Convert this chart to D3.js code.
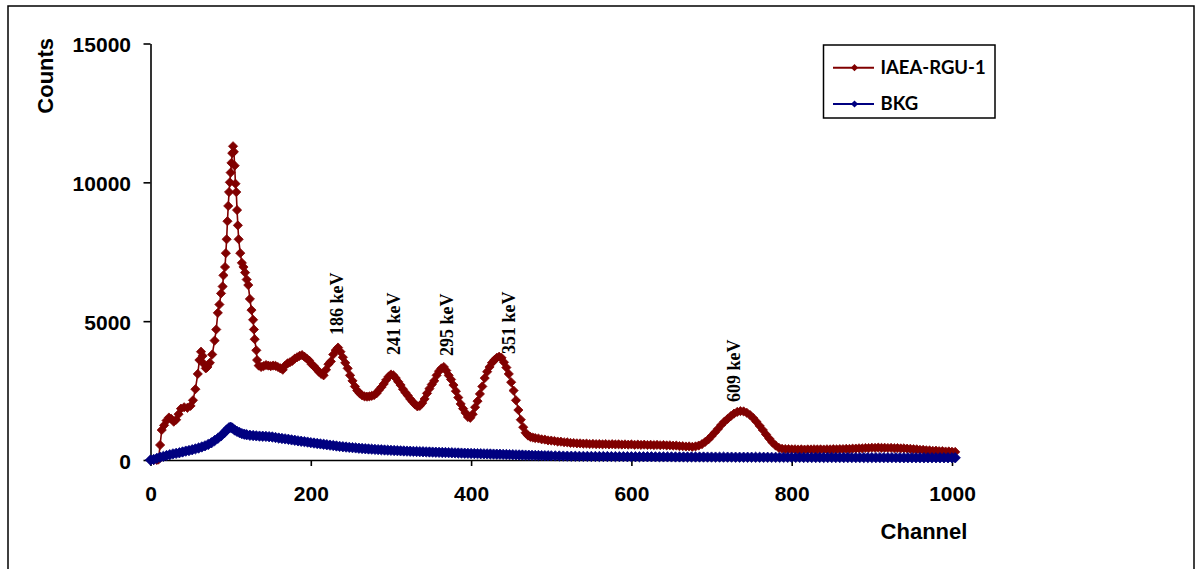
<!DOCTYPE html>
<html>
<head>
<meta charset="utf-8">
<script src="https://cdn.jsdelivr.net/npm/d3@7/dist/d3.min.js"></script>
<style>
  html, body { margin: 0; padding: 0; background: #fff; }
  svg { display: block; }
</style>
</head>
<body>
<svg id="chart" width="1196" height="569"></svg>
<script>
// ---------- data ----------
const xTicks = [0, 200, 400, 600, 800, 1000];
const yTicks = [0, 5000, 10000, 15000];

const seriesNames = ["IAEA-RGU-1", "BKG"];

const iaeaChannel = [
  0,4,8,10,12,14,17,20,23,26,
  29,32,35,38,42,46,50,53,56,59,
  61,63,65,67,69,71,74,77,80,82,
  84,86,88,90,91,93,94,95,96,97,
  98,99,100,101,102,103,104,105,106,107,
  108,109,110,112,114,116,118,120,122,124,
  126,128,129,130,132,133,135,138,141,144,
  147,150,153,156,159,162,165,168,171,174,
  177,180,183,186,189,192,195,198,201,204,
  207,210,213,216,219,222,225,228,231,234,
  237,240,243,246,249,252,255,258,261,264,
  267,270,273,276,279,282,285,288,291,294,
  297,300,303,306,309,312,315,318,321,324,
  327,330,333,336,339,342,345,348,351,354,
  357,360,363,366,369,372,375,378,381,384,
  387,390,393,396,399,402,405,408,411,414,
  417,420,423,426,429,432,435,438,441,444,
  447,450,453,456,459,462,465,468,471,474,
  477,480,484,488,492,496,500,504,508,512,
  516,520,524,528,532,536,540,544,548,552,
  556,560,564,568,572,576,580,584,588,592,
  596,600,604,608,612,616,620,624,628,632,
  636,640,644,648,652,656,660,664,668,672,
  676,680,684,688,692,696,700,704,708,712,
  716,720,724,728,732,736,740,744,748,752,
  756,760,764,768,772,776,780,784,788,792,
  796,800,804,808,812,816,820,824,828,832,
  836,840,844,848,852,856,860,864,868,872,
  876,880,884,888,892,896,900,904,908,912,
  916,920,924,928,932,936,940,944,948,952,
  956,960,964,968,972,976,980,984,988,992,
  996,1000,1004];
const iaeaCounts = [
  0,0,0,20,540,1080,1250,1420,1530,1480,
  1380,1450,1650,1850,1900,1880,1950,2150,2550,3100,
  3600,3900,3750,3450,3300,3350,3500,3800,4300,4700,
  5300,5600,6000,6250,6650,6950,7450,7950,8600,9150,
  9650,10000,10350,10700,11050,11300,11100,10600,9950,9650,
  9000,8450,7950,7450,7100,6950,6750,6500,6300,5800,
  5400,5050,4700,4350,3950,3600,3400,3350,3380,3420,
  3400,3380,3400,3390,3350,3300,3250,3400,3480,3520,
  3570,3650,3700,3750,3780,3720,3650,3580,3450,3380,
  3280,3180,3100,3050,3250,3450,3550,3800,3950,4050,
  3900,3700,3500,3300,3050,2850,2650,2500,2400,2330,
  2290,2280,2290,2310,2340,2400,2520,2620,2740,2880,
  3000,3080,3050,2950,2820,2700,2550,2430,2320,2200,
  2100,2000,1930,1950,2050,2200,2400,2570,2720,2850,
  3050,3200,3300,3350,3220,3050,2900,2700,2480,2250,
  2020,1850,1700,1550,1520,1650,1900,2120,2380,2650,
  2950,3180,3350,3500,3600,3680,3720,3680,3520,3330,
  3100,2800,2500,2150,1800,1450,1180,980,880,830,
  810,790,775,745,735,705,700,685,665,660,
  640,635,615,612,600,598,588,590,576,580,
  570,575,566,572,562,570,560,566,556,562,
  552,560,548,556,544,552,540,548,536,544,
  532,540,526,530,516,520,500,498,486,490,
  476,490,520,570,650,740,860,990,1120,1260,
  1380,1480,1580,1670,1730,1760,1750,1700,1620,1510,
  1380,1230,1080,920,770,630,520,440,405,395,
  390,385,388,378,384,375,382,380,388,380,
  384,378,386,382,390,384,392,392,402,400,
  410,412,422,420,432,430,442,436,446,438,
  440,432,436,425,428,418,420,408,404,390,
  385,368,365,350,345,332,335,318,320,306,
  308,298,292];

const bkgChannel = [
  0,4,8,12,16,20,24,28,32,36,
  40,44,48,52,56,60,64,68,72,76,
  80,84,88,92,95,98,100,102,105,108,
  111,114,117,120,124,128,132,136,140,144,
  148,152,156,160,164,168,172,176,180,184,
  188,192,196,200,204,208,212,216,220,224,
  228,232,236,240,244,248,252,256,260,264,
  268,272,276,280,284,288,292,296,300,304,
  308,312,316,320,324,328,332,336,340,344,
  348,352,356,360,364,368,372,376,380,384,
  388,392,396,400,404,408,412,416,420,424,
  428,432,436,440,444,448,452,456,460,464,
  468,472,476,480,484,488,492,496,500,505,
  510,515,520,525,530,535,540,545,550,555,
  560,565,570,575,580,585,590,595,600,605,
  610,615,620,625,630,635,640,645,650,655,
  660,665,670,675,680,685,690,695,700,705,
  710,715,720,725,730,735,740,745,750,755,
  760,765,770,775,780,785,790,795,800,805,
  810,815,820,825,830,835,840,845,850,855,
  860,865,870,875,880,885,890,895,900,905,
  910,915,920,925,930,935,940,945,950,955,
  960,965,970,975,980,985,990,995,1000,1004];
const bkgCounts = [
  0,20,60,100,130,160,190,220,240,260,
  290,320,340,370,400,430,470,510,560,620,
  700,780,870,980,1080,1160,1180,1150,1080,1030,
  990,950,930,910,890,880,870,860,855,850,
  840,830,810,790,775,760,745,725,710,690,
  675,660,645,625,610,595,580,565,550,535,
  520,505,490,478,466,455,445,435,425,415,
  405,398,390,382,375,368,360,354,348,342,
  336,330,325,320,315,310,305,300,296,292,
  288,284,280,276,272,268,264,260,256,252,
  248,244,240,236,232,229,226,222,219,216,
  212,209,206,202,198,194,190,186,182,178,
  175,172,168,165,162,158,155,152,150,147,
  144,141,138,136,134,132,130,129,128,127,
  126,125,124,123,122,121,120,119,118,118,
  117,116,115,115,114,113,112,112,111,110,
  110,109,108,108,107,106,106,105,105,104,
  103,103,102,102,101,100,100,99,99,98,
  98,97,97,96,96,95,95,94,94,93,
  93,92,92,91,91,90,90,90,89,89,
  88,88,88,87,87,87,86,86,86,85,
  85,85,84,84,84,83,83,83,82,82,
  82,81,81,81,80,80,80,80,80,80];

const peakLabels = ["186 keV", "241 keV", "295 keV", "351 keV", "609 keV"];
const peakChannel = [240, 311, 377, 455, 736];
const peakBase = [4500, 3780, 3745, 3820, 2090];

// ---------- layout ----------
const svg = d3.select("#chart");
const RED = "#800000", BLUE = "#000080";

svg.append("rect").attr("x", 8).attr("y", 6).attr("width", 1186).attr("height", 600)
  .attr("fill", "none").attr("stroke", "#000").attr("stroke-width", 1.5);

const x = d3.scaleLinear().domain([0, 1000]).range([150.5, 952]);
const y = d3.scaleLinear().domain([0, 15000]).range([460, 43.5]);

// axes
const xAxis = svg.append("g").attr("transform", "translate(0,460)")
  .call(d3.axisBottom(x).tickValues(xTicks).tickSize(6).tickSizeOuter(0).tickFormat(d3.format("d")));
const yAxis = svg.append("g").attr("transform", "translate(150.5,0)")
  .call(d3.axisLeft(y).tickValues(yTicks).tickSize(7).tickSizeOuter(0).tickFormat(d3.format("d")));

[xAxis, yAxis].forEach(g => {
  g.select(".domain").attr("stroke", "#000").attr("stroke-width", 1.6);
  g.selectAll(".tick line").attr("stroke", "#000").attr("stroke-width", 1.6);
  g.selectAll(".tick text").attr("fill", "#000")
    .style("font-family", "'Liberation Sans', Arial, sans-serif")
    .style("font-weight", "bold").style("font-size", "21px");
});
xAxis.selectAll(".tick text").attr("y", 0).attr("dy", "41px");
yAxis.selectAll(".tick text").attr("x", -19.5).attr("dy", "8px");

// axis titles
svg.append("text").attr("x", 924).attr("y", 539).attr("text-anchor", "middle")
  .style("font-family", "'Liberation Sans', Arial, sans-serif").style("font-weight", "bold")
  .style("font-size", "22px").text("Channel");
svg.append("text").attr("transform", "translate(53,75.8) rotate(-90)").attr("text-anchor", "middle")
  .style("font-family", "'Liberation Sans', Arial, sans-serif").style("font-weight", "bold")
  .style("font-size", "22px").text("Counts");

// series
const diamond = r => `M0,${-r}L${r},0L0,${r}L${-r},0Z`;
function drawSeries(chs, vals, color, r) {
  const pts = chs.map((c, i) => [c, vals[i]]);
  const g = svg.append("g");
  g.append("path").datum(pts)
    .attr("d", d3.line().x(d => x(d[0])).y(d => y(d[1])))
    .attr("fill", "none").attr("stroke", color).attr("stroke-width", 1.6);
  g.selectAll("path.m").data(pts).enter().append("path").attr("class", "m")
    .attr("transform", d => `translate(${x(d[0])},${y(d[1])})`)
    .attr("d", diamond(r)).attr("fill", color).attr("stroke", color).attr("stroke-width", 0.8);
}
drawSeries(iaeaChannel, iaeaCounts, RED, 4.6);
drawSeries(bkgChannel, bkgCounts, BLUE, 5.2);

// peak labels
peakLabels.forEach((t, i) => {
  svg.append("text")
    .attr("transform", `translate(${x(peakChannel[i])},${y(peakBase[i])}) rotate(-90)`)
    .attr("text-anchor", "start")
    .style("font-family", "'Liberation Serif', 'Times New Roman', serif").style("font-weight", "bold")
    .style("font-size", "18px").text(t);
});

// legend
const lg = svg.append("g");
lg.append("rect").attr("x", 823.5).attr("y", 45).attr("width", 171.5).attr("height", 73)
  .attr("fill", "#fff").attr("stroke", "#000").attr("stroke-width", 1.5);
const legColors = [RED, BLUE];
const legY = [67.7, 104];
seriesNames.forEach((n, i) => {
  lg.append("line").attr("x1", 833).attr("x2", 874).attr("y1", legY[i]).attr("y2", legY[i])
    .attr("stroke", legColors[i]).attr("stroke-width", 2);
  lg.append("path").attr("transform", `translate(854.5,${legY[i]})`).attr("d", diamond(3.6))
    .attr("fill", legColors[i]);
  lg.append("text").attr("x", 880.5).attr("y", legY[i] + 6.3)
    .style("font-family", "Lato, 'Open Sans', sans-serif").style("font-weight", "bold")
    .style("font-size", "18.5px").text(n);
});
</script>
</body>
</html>
